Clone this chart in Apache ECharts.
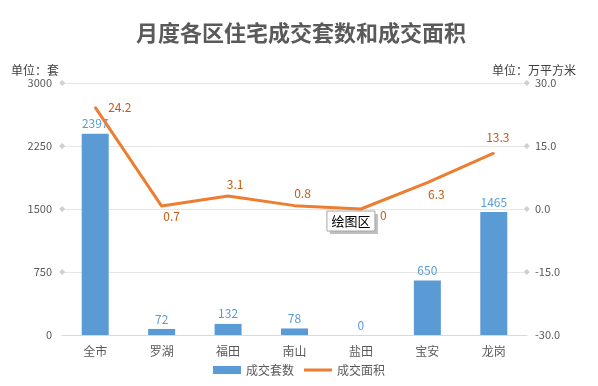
<!DOCTYPE html>
<html><head><meta charset="utf-8">
<script src="https://cdn.jsdelivr.net/npm/echarts@6/dist/echarts.min.js"></script>
<style>html,body{margin:0;padding:0;background:#fff}#c{width:598px;height:386px}</style>
</head><body><div id="c"></div>
<script>
var categories = ['全市','罗湖','福田','南山','盐田','宝安','龙岗'];
var units = [2397, 72, 132, 78, 0, 650, 1465];
var area = [24.2, 0.7, 3.1, 0.8, 0, 6.3, 13.3];
var leftTicks = [0, 750, 1500, 2250, 3000];
var rightTicks = [-30, -15, 0, 15, 30];
var areaLabelPos = ['right','bottom','top','top','right','bottom','top'];
var areaLabelOffset = [[7,0],[10,-2],[7,0],[8,0],[13,6],[9,0],[4,-4]];

var chart = echarts.init(document.getElementById('c'));
var font = '"Noto Sans CJK SC", "Noto Sans", sans-serif';
var option = {
  animation: false,
  title: [{
    text: '月度各区住宅成交套数和成交面积', left: 131, top: 17,
    textStyle: {fontSize: 22, fontWeight: 'bold', color: '#5a5a5a', fontFamily: font}
  }, {
    text: '单位：套', left: 6, top: 59,
    textStyle: {fontSize: 12, fontWeight: 'normal', color: '#404040', fontFamily: font}
  }, {
    text: '单位：万平方米', right: 17, top: 59,
    textStyle: {fontSize: 12, fontWeight: 'normal', color: '#404040', fontFamily: font}
  }],
  legend: {
    bottom: 5, left: 'center', itemWidth: 28, itemHeight: 8, itemGap: 10,
    textStyle: {fontSize: 12, color: '#595959', fontFamily: font},
    data: [{name: '成交套数', icon: 'rect'},
           {name: '成交面积', icon: 'path://M0 0 H28 V3 H0 Z', itemStyle: {color: '#ed7d31'}}]
  },
  grid: {left: 62, right: 71, top: 83, bottom: 51},
  xAxis: {
    type: 'category', data: categories,
    axisLine: {lineStyle: {color: '#d9d9d9', width: 1}},
    axisTick: {show: false},
    axisLabel: {color: '#595959', fontSize: 12, fontFamily: font, margin: 10}
  },
  yAxis: [{
    type: 'value', min: 0, max: 3000, interval: 750,
    axisLine: {show: false}, axisTick: {show: false},
    axisLabel: {color: '#595959', fontSize: 11, fontFamily: font, margin: 10,
      formatter: function(v){ return String(v); }},
    splitLine: {lineStyle: {color: '#e6e6e6', width: 1}}
  }, {
    type: 'value', min: -30, max: 30, interval: 15,
    axisLine: {show: false}, axisTick: {show: false},
    axisLabel: {color: '#595959', fontSize: 11, fontFamily: font, margin: 8,
      formatter: function(v){ return v.toFixed(1); }},
    splitLine: {show: false}
  }],
  series: [{
    name: '成交套数', type: 'bar', data: units, barWidth: 27, yAxisIndex: 0,
    itemStyle: {color: '#5b9bd5'},
    label: {show: true, position: 'top', color: '#5b9bd5', fontSize: 12, fontFamily: font, distance: 4}
  }, {
    name: '成交面积', type: 'line', yAxisIndex: 1, symbol: 'circle', symbolSize: 2, showSymbol: true,
    lineStyle: {color: '#ed7d31', width: 3}, itemStyle: {color: '#ed7d31'},
    label: {show: true, color: '#c55a11', fontSize: 12, fontFamily: font},
    data: area.map(function(v, i){
      return {value: v, label: {position: areaLabelPos[i], offset: areaLabelOffset[i]}};
    })
  }]
};
chart.setOption(option);

var g = [];
leftTicks.forEach(function(v){
  var y = chart.convertToPixel({yAxisIndex: 0}, v);
  var x = chart.convertToPixel({xAxisIndex: 0}, categories[0]) - 33;
  if (v !== 0) g.push({type: 'polygon', shape: {points: [[x,y-3],[x+3,y],[x,y+3],[x-3,y]]}, style: {fill: '#d0d0d0'}});
});
rightTicks.forEach(function(v){
  var y = chart.convertToPixel({yAxisIndex: 1}, v);
  var x = chart.convertToPixel({xAxisIndex: 0}, categories[categories.length-1]) + 33;
  if (v !== -30) g.push({type: 'polygon', shape: {points: [[x,y-3],[x+3,y],[x,y+3],[x-3,y]]}, style: {fill: '#d0d0d0'}});
});
var bx = chart.convertToPixel({xAxisIndex: 0}, '盐田');
var by = chart.convertToPixel({yAxisIndex: 1}, 0);
g.push({type: 'rect', shape: {x: bx-31, y: by+5, width: 48, height: 20}, style: {fill: '#bfbfbf'}});
g.push({type: 'rect', shape: {x: bx-34, y: by+2, width: 48, height: 20}, style: {fill: '#fff', stroke: '#a6a6a6', lineWidth: 1}});
g.push({type: 'text', x: bx-10, y: by+12, style: {text: '绘图区', fill: '#000', fontSize: 13, fontFamily: font, align: 'center', verticalAlign: 'middle'}});
chart.setOption({graphic: g});
</script></body></html>
